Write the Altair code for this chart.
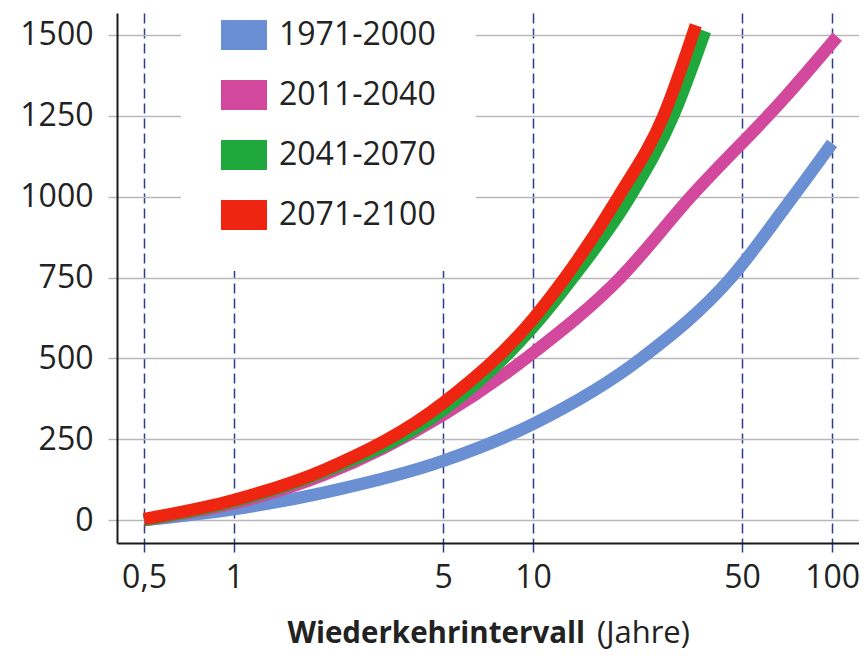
import altair as alt
import pandas as pd

periods = ["1971-2000", "2011-2040", "2041-2070", "2071-2100"]
colors = ["#6b8fd3", "#d1489c", "#1fa83c", "#ee2510"]

t_1971 = [0.5, 1, 2, 5, 10, 23, 46, 72, 100]
v_1971 = [0, 34, 85, 183, 297, 500, 750, 985, 1165]
t_2011 = [0.5, 1, 2, 5, 10, 19.6, 33.7, 70, 104]
v_2011 = [0, 52, 140, 325, 517, 750, 1000, 1310, 1495]
t_2041 = [0.5, 1, 2, 5, 10, 13.6, 21.1, 29.4, 37.6]
v_2041 = [0, 58, 150, 340, 597, 750, 1000, 1250, 1512]
t_2071 = [0.5, 1, 2, 5, 10, 12.8, 19.3, 27.3, 35]
v_2071 = [3, 62, 155, 362, 622, 750, 1000, 1250, 1530]

x_ticks = [0.5, 1, 5, 10, 50, 100]
y_ticks = [0, 250, 500, 750, 1000, 1250, 1500]

rows = []
for i, (p, ts, vs) in enumerate(zip(periods, [t_1971, t_2011, t_2041, t_2071],
                                    [v_1971, v_2011, v_2041, v_2071])):
    for t, v in zip(ts, vs):
        rows.append({"Periode": p, "idx": i, "T": t, "Wert": v})
df = pd.DataFrame(rows)

FONT = "Open Sans"
RECT = "M-1,-0.65H1V0.65H-1Z"

x_enc = alt.X("T:Q",
              scale=alt.Scale(type="log", domain=[0.406, 123], nice=False),
              axis=alt.Axis(values=x_ticks, title=None, grid=True,
                            gridColor="#2d3c8e", gridDash=[10, 5], gridWidth=1.5,
                            tickColor="#2d3c8e", tickDash=[10, 5], tickWidth=1.5,
                            tickSize=9, domainColor="#1a1a1a", domainWidth=2,
                            labelFont=FONT, labelFontSize=32, labelColor="#222222",
                            labelPadding=10, labelFlush=False,
                            labelExpr="replace(format(datum.value, '~g'), '.', ',')"))
y_enc = alt.Y("Wert:Q",
              scale=alt.Scale(domain=[-71, 1568], nice=False, zero=False),
              axis=alt.Axis(values=y_ticks, title=None, grid=True, format="d",
                            gridColor="#b8b8b8", gridWidth=1.5,
                            tickColor="#b8b8b8", tickWidth=1.5, tickSize=9,
                            domainColor="#1a1a1a", domainWidth=2,
                            labelFont=FONT, labelFontSize=32, labelColor="#222222",
                            labelPadding=15, labelFlush=False))

lines = alt.Chart(df).mark_line(
    strokeWidth=12.5, interpolate="monotone", strokeCap="butt"
).encode(
    x=x_enc, y=y_enc,
    color=alt.Color("idx:N", scale=alt.Scale(domain=[0, 1, 2, 3], range=colors),
                    legend=None),
)

legend_layer = alt.Chart(df).mark_point(
    shape=RECT, filled=True, size=10, opacity=0, strokeWidth=0
).encode(
    x=alt.X("T:Q"), y=alt.Y("Wert:Q"),
    fill=alt.Fill("Periode:N", scale=alt.Scale(domain=periods, range=colors),
                  legend=alt.Legend(
                      title=None, orient="none", legendX=64, legendY=-41,
                      padding=40, fillColor="white",
                      symbolType=RECT, symbolSize=2116,
                      symbolStrokeWidth=0, symbolOpacity=1,
                      labelFont=FONT, labelFontSize=32, labelColor="#222222",
                      labelOffset=12, rowPadding=21)),
)

title_bold = alt.Chart(pd.DataFrame({"s": ["Wiederkehrintervall"]})).mark_text(
    font=FONT, fontSize=29.5, fontWeight="bold", align="right",
    baseline="alphabetic", color="#222222"
).encode(x=alt.value(468), y=alt.value(630), text="s:N")

title_norm = alt.Chart(pd.DataFrame({"s": ["(Jahre)"]})).mark_text(
    font=FONT, fontSize=31, align="left", baseline="alphabetic", color="#222222"
).encode(x=alt.value(480), y=alt.value(630), text="s:N")

chart = alt.layer(lines, legend_layer, title_bold, title_norm).properties(
    width=742, height=530,
    padding={"left": 109, "top": 5, "right": 0, "bottom": 110},
    autosize=alt.AutoSizeParams(type="none"),
).configure_view(stroke=None)

chart.save("out.html", embed_options={"renderer": "svg", "actions": False})
